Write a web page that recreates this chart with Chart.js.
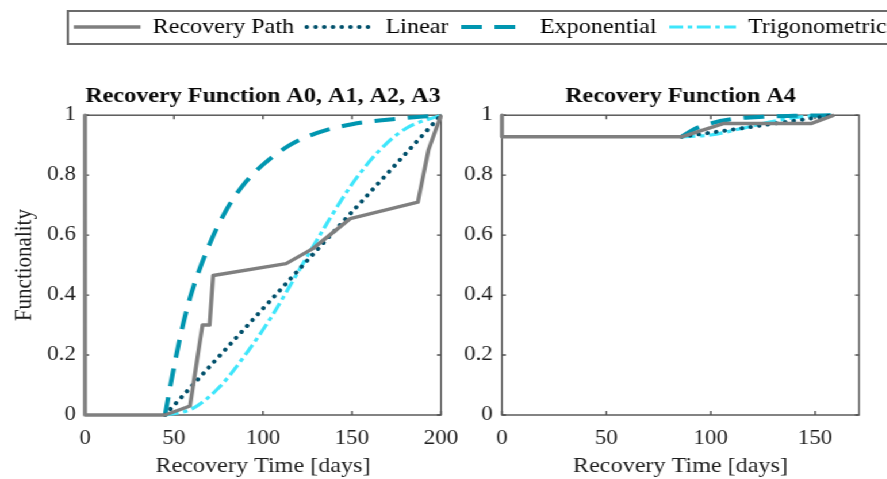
<!DOCTYPE html>
<html>
<head>
<meta charset="utf-8">
<title>Recovery Functions</title>
<script src="https://cdn.jsdelivr.net/npm/chart.js@4.4.1/dist/chart.umd.min.js"></script>
<style>
  html, body { margin: 0; padding: 0; background: #fff; width: 887px; height: 479px; overflow: hidden; }
  #stage { position: absolute; left: 0; top: 0; height: 479px; transform-origin: 0 0; }
  #stage canvas { position: absolute; left: 0; top: 0; }
  #legendFrame { position: absolute; box-sizing: border-box; border: 2px solid #6b6b6b; background: #fff; }
</style>
</head>
<body>
<div id="stage">
  <div id="legendFrame"></div>
  <canvas id="legendCanvas"></canvas>
  <canvas id="chartA"></canvas>
  <canvas id="chartB"></canvas>
</div>
<script>
// ---- Recovery Function A0, A1, A2, A3 ----
const pathDaysA   = [0, 0, 45, 59, 66, 70, 72, 113, 128, 149, 187, 193, 200];
const pathFuncA   = [1, 0, 0, 0.03, 0.30, 0.30, 0.465, 0.505, 0.555, 0.655, 0.71, 0.885, 1];
const linearDaysA = [45, 200];
const linearFuncA = [0, 1];
const expDaysA    = [45, 50, 55, 60, 70, 80, 90, 100, 115, 130, 150, 170, 200];
const expFuncA    = [0, 0.16, 0.30, 0.41, 0.57, 0.69, 0.775, 0.835, 0.90, 0.94, 0.97, 0.985, 1];
const trigDaysA   = [45, 60, 75, 90, 105, 120, 135, 150, 165, 180, 200];
const trigFuncA   = [0, 0.02, 0.09, 0.20, 0.33, 0.48, 0.63, 0.77, 0.88, 0.955, 1];

// ---- Recovery Function A4 ----
const pathDaysB   = [0, 0, 86, 106, 148, 159];
const pathFuncB   = [1, 0.928, 0.928, 0.972, 0.972, 1];
const linearDaysB = [86, 159];
const linearFuncB = [0.928, 1];
const expDaysB    = [86, 92, 100, 110, 125, 140, 159];
const expFuncB    = [0.928, 0.953, 0.973, 0.987, 0.995, 0.998, 1];
const trigDaysB   = [86, 100, 115, 130, 145, 159];
const trigFuncB   = [0.928, 0.934, 0.956, 0.98, 0.996, 1];

// ---- labels and axis ranges ----
const seriesNames = ['Recovery Path', 'Linear', 'Exponential', 'Trigonometric'];
const panelTitles = ['Recovery Function A0, A1, A2, A3', 'Recovery Function A4'];
const xTitle = 'Recovery Time [days]';
const yTitle = 'Functionality';
const xMaxA = 200;
const xMaxB = 171;
const xStep = 50;
const yStep = 0.2;

// ---- page geometry (text in this figure is wide, so the stage is stretched horizontally) ----
const STRETCH = 1.15;
const PAGE_W = 887, PAGE_H = 479;
const W = Math.round(PAGE_W / STRETCH);
const SERIF = '"Liberation Serif", "Times New Roman", serif';
const TEXT = '#1e1e1e';

const stage = document.getElementById('stage');
stage.style.width = W + 'px';
stage.style.transform = 'scaleX(' + STRETCH + ')';

const seriesStyles = [
  { borderColor: '#7f7f7f', backgroundColor: '#7f7f7f', borderWidth: 3.5, borderDash: [], borderCapStyle: 'butt', tension: 0 },
  { borderColor: '#00506b', backgroundColor: '#00506b', borderWidth: 4, borderDash: [0.1, 7.5], borderCapStyle: 'round', tension: 0 },
  { borderColor: '#0096b0', backgroundColor: '#0096b0', borderWidth: 4, borderDash: [18, 11], borderCapStyle: 'butt', cubicInterpolationMode: 'monotone' },
  { borderColor: '#3fe6fb', backgroundColor: '#3fe6fb', borderWidth: 3.2, borderDash: [12, 4, 4, 4], borderCapStyle: 'butt', cubicInterpolationMode: 'monotone' }
];

function toPoints(days, vals) {
  return days.map((d, i) => ({ x: d, y: vals[i] }));
}

function buildDatasets(groups) {
  return groups.map((g, i) => Object.assign({
    label: seriesNames[i],
    data: toPoints(g[0], g[1]),
    pointRadius: 0,
    pointHoverRadius: 0,
    fill: false,
    clip: false,
    borderJoinStyle: 'round'
  }, seriesStyles[i]));
}

// Axes box with inward tick marks on all four sides
const boxFrame = {
  id: 'boxFrame',
  beforeDatasetsDraw(chart) {
    const { ctx, chartArea: a, scales: { x, y } } = chart;
    const tLen = 4;
    ctx.save();
    ctx.strokeStyle = '#4f4f4f';
    ctx.lineWidth = 1.4;
    ctx.strokeRect(a.left, a.top, a.right - a.left, a.bottom - a.top);
    ctx.beginPath();
    x.ticks.forEach(tk => {
      const px = x.getPixelForValue(tk.value);
      ctx.moveTo(px, a.bottom); ctx.lineTo(px, a.bottom - tLen);
      ctx.moveTo(px, a.top);    ctx.lineTo(px, a.top + tLen);
    });
    y.ticks.forEach(tk => {
      const py = y.getPixelForValue(tk.value);
      ctx.moveTo(a.left, py);  ctx.lineTo(a.left + tLen / STRETCH, py);
      ctx.moveTo(a.right, py); ctx.lineTo(a.right - tLen / STRETCH, py);
    });
    ctx.stroke();
    ctx.restore();
  }
};

function panelOptions(cfg) {
  return {
    responsive: false,
    animation: false,
    devicePixelRatio: 1,
    events: [],
    layout: { padding: { left: cfg.padLeft, right: cfg.padRight, top: 84, bottom: 0 } },
    plugins: {
      legend: { display: false },
      tooltip: { enabled: false },
      title: {
        display: true,
        text: cfg.title,
        fullSize: false,
        color: '#0a0a0a',
        font: { family: SERIF, size: 21, weight: 'bold' },
        padding: { top: 0, bottom: 6 }
      }
    },
    scales: {
      x: {
        type: 'linear',
        min: 0,
        max: cfg.xMax,
        grid: { display: false, drawTicks: false },
        border: { display: false },
        ticks: { stepSize: xStep, includeBounds: false, padding: 12, color: TEXT, maxRotation: 0,
                 font: { family: SERIF, size: 20 } },
        title: { display: true, text: xTitle, color: TEXT, font: { family: SERIF, size: 21 },
                 padding: { top: 0, bottom: 0 } },
        afterFit(scale) { scale.height = 64; }
      },
      y: {
        type: 'linear',
        min: 0,
        max: 1,
        grid: { display: false, drawTicks: false },
        border: { display: false },
        ticks: { stepSize: yStep, padding: 8, color: TEXT, font: { family: SERIF, size: 20 },
                 callback: v => String(Number(v.toFixed(1))) },
        title: { display: cfg.showYTitle, text: yTitle, color: TEXT, font: { family: SERIF, size: 21 },
                 padding: { top: 9, bottom: 0 } },
        afterFit(scale) { scale.width = cfg.yWidth; }
      }
    }
  };
}

// Left panel: chart area spans 73.9 .. 383.5 (stage units)
const cA = document.getElementById('chartA');
cA.width = W; cA.height = PAGE_H;
new Chart(cA, {
  type: 'line',
  data: { datasets: buildDatasets([[pathDaysA, pathFuncA], [linearDaysA, linearFuncA], [expDaysA, expFuncA], [trigDaysA, trigFuncA]]) },
  options: panelOptions({ title: panelTitles[0], xMax: xMaxA, showYTitle: true, yWidth: 73.9, padLeft: 0, padRight: W - 383.5 }),
  plugins: [boxFrame]
});

// Right panel: chart area spans 436.5 .. 747 (stage units)
const cB = document.getElementById('chartB');
cB.width = W; cB.height = PAGE_H;
new Chart(cB, {
  type: 'line',
  data: { datasets: buildDatasets([[pathDaysB, pathFuncB], [linearDaysB, linearFuncB], [expDaysB, expFuncB], [trigDaysB, trigFuncB]]) },
  options: panelOptions({ title: panelTitles[1], xMax: xMaxB, showYTitle: false, yWidth: 40, padLeft: 436.5 - 40, padRight: W - 747 }),
  plugins: [boxFrame]
});

// Shared legend across the top
const LEG_W = 840, LEG_H = 120;
const frame = document.getElementById('legendFrame');
frame.style.left = '58.3px';
frame.style.top = '10px';
frame.style.width = (LEG_W - 58.3) + 'px';
frame.style.height = '35px';

const cL = document.getElementById('legendCanvas');
cL.width = LEG_W; cL.height = LEG_H;
new Chart(cL, {
  type: 'line',
  data: { datasets: seriesNames.map((n, i) => Object.assign({ label: n, data: [] }, seriesStyles[i])) },
  options: {
    responsive: false,
    animation: false,
    devicePixelRatio: 1,
    events: [],
    layout: { padding: { left: 53.2, top: 5.5, right: 0, bottom: 0 } },
    scales: { x: { display: false }, y: { display: false } },
    plugins: {
      tooltip: { enabled: false },
      title: { display: false },
      legend: {
        display: true,
        position: 'top',
        align: 'start',
        maxHeight: 80,
        labels: {
          usePointStyle: true,
          pointStyle: 'line',
          pointStyleWidth: 58,
          padding: 11,
          color: '#0a0a0a',
          font: { family: SERIF, size: 21 },
          generateLabels(chart) {
            return chart.data.datasets.map((ds, i) => ({
              text: ds.label,
              datasetIndex: i,
              hidden: false,
              fillStyle: ds.borderColor,
              strokeStyle: ds.borderColor,
              lineWidth: ds.borderWidth,
              lineDash: ds.borderDash,
              lineCap: ds.borderCapStyle,
              lineJoin: 'round',
              pointStyle: 'line',
              rotation: 0
            }));
          }
        }
      }
    }
  }
});
</script>
</body>
</html>
